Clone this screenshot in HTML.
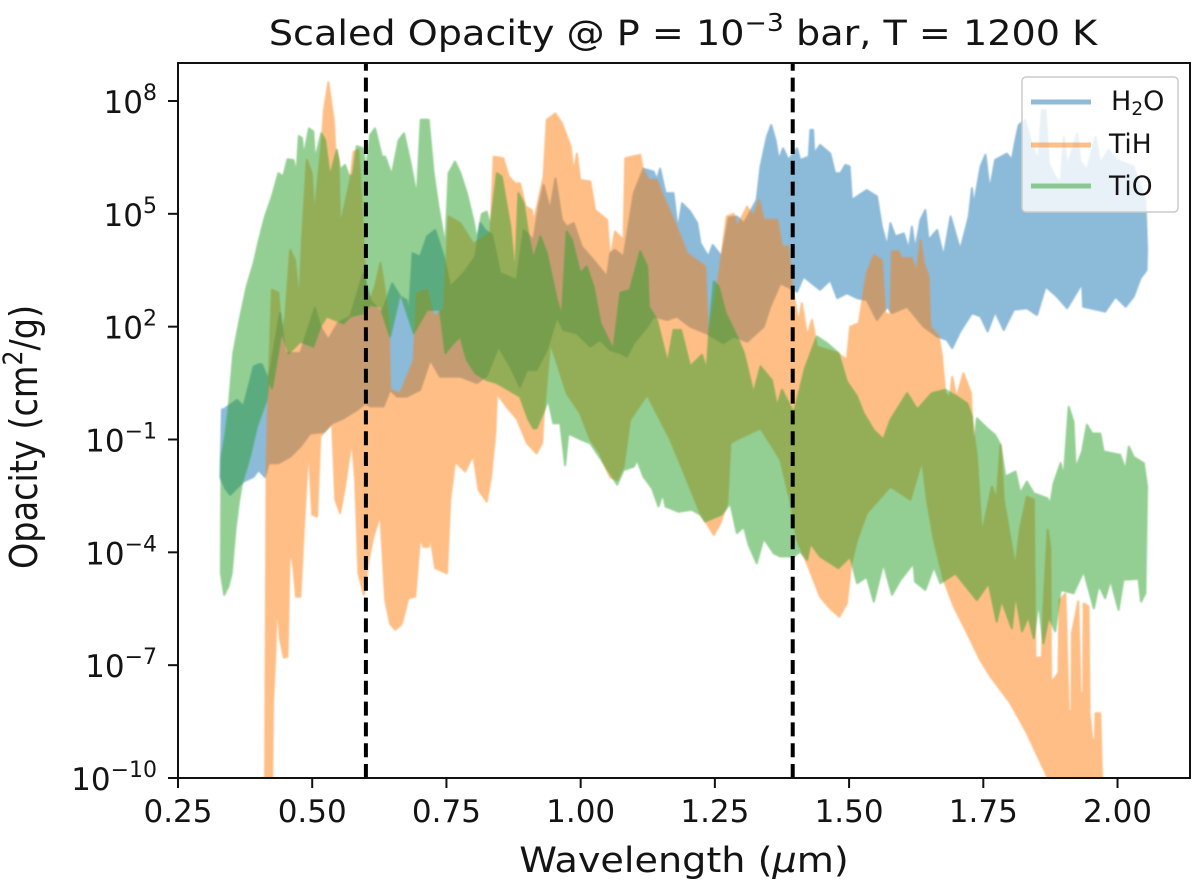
<!DOCTYPE html>
<html lang="en">
<head>
<meta charset="utf-8">
<title>Scaled Opacity</title>
<style>
html,body{margin:0;padding:0;background:#fff;}
svg{display:block;font-family:"DejaVu Sans","Liberation Sans",sans-serif;fill:#141414;}
</style>
</head>
<body>
<svg id="chart" xmlns="http://www.w3.org/2000/svg" width="1200" height="891" viewBox="0 0 1200 891">
<defs>
<clipPath id="plot-clip"><rect x="178" y="63" width="1012" height="715"/></clipPath>
<filter id="soft" x="-2%" y="-2%" width="104%" height="104%"><feGaussianBlur stdDeviation="0.7"/></filter>
</defs>
<rect width="1200" height="891" fill="#fff"/>
<g id="series-layer" clip-path="url(#plot-clip)"></g>
<g id="marker-layer" clip-path="url(#plot-clip)"></g>
<g id="tick-layer"></g>
<rect x="178" y="63" width="1012" height="715" fill="none" stroke="#111" stroke-width="2"/>
<text transform="translate(683,45) scale(1.09,1)" text-anchor="middle" font-size="35">Scaled Opacity @ P = 10<tspan font-size="24.5" dy="-14">−3</tspan><tspan dy="14"> bar, T = 1200 K</tspan></text>
<text transform="translate(684,872) scale(1.09,1)" text-anchor="middle" font-size="35">Wavelength (<tspan font-style="italic">μ</tspan>m)</text>
<text transform="translate(37,437) rotate(-90) scale(1,1.14)" text-anchor="middle" font-size="33.5">Opacity (cm<tspan font-size="23.5" dy="-13">2</tspan><tspan dy="13">/g)</tspan></text>
<g>
<rect x="1022" y="77" width="156" height="135" rx="4" fill="#fff" fill-opacity="0.8" stroke="#ccc" stroke-width="1.5"/>
<line x1="1031" x2="1091" y1="102" y2="102" stroke="#1f77b4" stroke-opacity="0.5" stroke-width="5"/>
<line x1="1031" x2="1091" y1="145" y2="145" stroke="#ff7f0e" stroke-opacity="0.5" stroke-width="5"/>
<line x1="1031" x2="1091" y1="186" y2="186" stroke="#2ca02c" stroke-opacity="0.5" stroke-width="5"/>
<text x="1111" y="110" font-size="27">H<tspan font-size="18.5" dy="5">2</tspan><tspan dy="-5">O</tspan></text>
<text x="1109" y="153" font-size="26.5">TiH</text>
<text x="1109" y="195" font-size="26.5">TiO</text>
</g>
</svg>
<script>
// Data: wavelengths in microns, opacity envelopes as log10(cm^2/g).
var h2oUpperWave=[.329,.332,.335,.36,.372,.391,.4,.406,.419,.44,.45,.478,.505,.515,.53,.548,.571,.586,.595,.608,.63,.649,.664,.676,.68,.687,.701,.714,.729,.745,.757,.782,.804,.813,.822,.835,.85,.881,.894,.912,.922,.931,.943,.953,.965,.974,.987,1.002,1.024,1.049,1.055,1.064,1.08,1.099,1.117,1.136,1.142,1.148,1.158,1.173,1.181,1.189,1.204,1.217,1.223,1.238,1.246,1.263,1.276,1.291,1.304,1.328,1.335,1.347,1.355,1.363,1.369,1.377,1.387,1.403,1.409,1.425,1.428,1.433,1.435,1.446,1.465,1.474,1.484,1.493,1.501,1.505,1.533,1.542,1.552,1.561,1.571,1.577,1.586,1.602,1.611,1.617,1.623,1.633,1.642,1.648,1.664,1.676,1.689,1.698,1.707,1.723,1.729,1.732,1.745,1.754,1.762,1.772,1.794,1.803,1.81,1.816,1.828,1.841,1.853,1.859,1.866,1.872,1.884,1.894,1.9,1.906,1.925,1.931,1.943,1.959,1.968,1.983,1.999,2.03,2.052,2.055];
var h2oUpperLog=[-2,-.2,-.2,.05,-.12,.94,1,1,.58,2.36,1.3,1.3,2.5,2,1.65,2.1,2.27,2.98,3.42,2.7,2.36,3.15,2.8,2.7,2.27,3.95,3.86,4.4,4.57,3.86,3.06,3.42,3.86,4.75,4.57,4.44,3.42,3.24,4.57,4.3,5.2,5.77,5.1,5.94,4.84,4.66,4.75,4.13,3.77,3.33,3.95,4.04,3.86,5.55,6.2,6.12,5.9,6.2,5.55,5.55,4.57,5.28,5.06,4.75,4.22,3.86,4.17,3.86,4.9,4.93,4.75,5.37,6.25,7.05,7.36,6.96,6.43,6.74,6.43,6.74,6.43,6.52,7.23,7.23,6.6,6.83,6.6,6.08,6.08,6.3,6.26,5.37,5.63,5.55,5.46,4.66,4.13,4.75,4.4,4.48,4.05,4.66,4.05,4.84,5.1,4.3,4.57,3.86,4.93,4.48,4.04,4.93,5.68,5.2,6.26,6.57,5.63,6.43,6.6,6.43,6.96,7.36,7.5,6.79,6.43,7.76,7.76,6.34,5.99,5.81,7.05,6.26,7.14,6.4,6.16,7.05,6.34,6.7,6.43,6.26,5.37,4.04];
var h2oLowerWave=[.329,.338,.347,.372,.391,.4,.412,.419,.437,.459,.478,.496,.521,.537,.558,.583,.599,.608,.633,.645,.658,.676,.701,.72,.738,.776,.807,.825,.847,.869,.887,.9,.918,.937,.956,.968,.993,1.018,1.036,1.055,1.074,1.086,1.099,1.124,1.136,1.161,1.179,1.204,1.235,1.266,1.285,1.31,1.341,1.353,1.372,1.384,1.403,1.415,1.446,1.465,1.478,1.496,1.515,1.533,1.552,1.571,1.58,1.608,1.639,1.664,1.682,1.692,1.707,1.729,1.745,1.758,1.772,1.788,1.807,1.831,1.85,1.866,1.887,1.906,1.934,1.936,1.977,1.996,2.015,2.03,2.043,2.054,2.055];
var h2oLowerLog=[-2,-2.3,-2.47,-2.12,-1.99,-1.81,-2,-1.63,-1.63,-1.46,-1.19,-.84,-.8,-.57,-.44,-.22,-.04,-.12,-.12,.32,.14,.14,.32,1.12,.67,.67,.5,.7,1.47,.94,.4,.85,.85,1.38,2.27,1.91,1.82,1.47,1.65,1.38,1.3,1.2,1.56,2,2.27,2.18,2.27,2,1.82,1.56,1.74,1.6,2,2.53,3.15,3.07,2.93,3.33,2.98,3.24,2.76,2.89,2.76,2.71,2.18,2.53,2.36,2.53,2,1.74,1.65,1.43,1.87,2.36,2.27,1.87,2.4,1.91,2.45,2.49,2.31,3.07,2.8,2.49,3.15,2.53,2.4,2.8,2.53,2.8,3.29,3.5,4.04];

var tihUpperWave=[.412,.415,.419,.425,.437,.443,.45,.459,.468,.476,.481,.49,.499,.504,.518,.522,.53,.54,.543,.549,.552,.571,.577,.586,.592,.599,.608,.617,.627,.636,.642,.645,.664,.689,.695,.714,.726,.745,.754,.776,.8,.832,.838,.856,.866,.878,.887,.897,.909,.912,.931,.937,.953,.965,.981,.987,.993,.999,1.018,1.027,1.049,1.055,1.064,1.08,1.083,1.111,1.116,1.127,1.142,1.151,1.176,1.198,1.232,1.238,1.26,1.272,1.285,1.291,1.31,1.322,1.332,1.341,1.366,1.375,1.387,1.394,1.406,1.412,1.422,1.431,1.44,1.478,1.496,1.502,1.518,1.533,1.546,1.561,1.567,1.577,1.58,1.592,1.598,1.617,1.626,1.633,1.639,1.648,1.651,1.667,1.673,1.679,1.688,1.692,1.7,1.713,1.727,1.729,1.738,1.747,1.752,1.766,1.775,1.782,1.788,1.803,1.81,1.818,1.831,1.844,1.847,1.859,1.862,1.87,1.875,1.876,1.89,1.892,1.903,1.909,1.914,1.915,1.927,1.931,1.936,1.937,1.946,1.948,1.953,1.958,1.959,1.968,1.971,1.975];
var tihUpperLog=[-10.5,-1.7,.5,2.98,2.9,1.8,2.27,4.04,3.77,2.62,4.3,6.43,6.08,4.93,6.96,7.76,8.5,7.5,6.74,6.43,4.66,5.9,6.65,6.7,5.37,3.06,2.7,3.06,3.69,2.9,2.18,.32,.23,1.1,2.9,2.98,2.27,2.45,4.93,4.75,4.2,4.5,6.52,6.48,5.99,5.81,5.81,5.2,5.1,4.75,5.99,7.5,7.67,7.41,6.8,6.1,6.6,5.9,5.86,5.1,4.84,3.77,4.53,4.3,6.48,6.57,6.17,5.9,5.9,5.55,4.75,3.95,3.6,1.65,3.6,4.93,5,4.66,5.19,4.93,5.37,4.84,4.84,4.13,4.13,3.07,2.09,2.62,1.74,2.18,1.47,1.3,1.12,2,2.09,3.42,3.9,3.77,2.36,2.3,4,4,3.82,3.82,3.42,4.3,3.69,3.33,2,1.74,1.2,.23,.1,.67,.1,.76,.23,-.48,-1.46,-3.5,-3.2,-2.25,-2.6,-1.15,-2.6,-3.85,-4.4,-3.4,-2.52,-2.6,-6.8,-6.8,-5.5,-3.4,-3.9,-7.48,-7.2,-5.27,-5.1,-8.23,-8.23,-6.15,-5.3,-7.75,-7.75,-5.36,-5.44,-8.28,-8.99,-8.99,-8.28,-8.28,-10,-10.5];
var tihLowerWave=[.412,.425,.427,.431,.434,.44,.447,.454,.458,.465,.47,.478,.484,.493,.5,.509,.515,.537,.543,.552,.561,.574,.58,.586,.596,.605,.614,.627,.636,.645,.655,.667,.679,.692,.701,.707,.717,.72,.729,.751,.757,.766,.785,.8,.81,.825,.833,.841,.844,.862,.881,.9,.918,.928,.931,.943,.95,.974,.999,1.018,1.036,1.046,1.055,1.068,1.08,1.092,1.124,1.148,1.167,1.198,1.223,1.248,1.26,1.273,1.279,1.291,1.335,1.353,1.372,1.39,1.403,1.422,1.446,1.465,1.482,1.496,1.504,1.515,1.533,1.577,1.614,1.636,1.645,1.658,1.676,1.695,1.72,1.744,1.763,1.8,1.831,1.869,1.88,1.975];
var tihLowerLog=[-10.5,-10.5,-8,-6.77,-5.27,-6.3,-6.8,-6.77,-3.85,-4.4,-5.18,-5.18,-3.49,-1.1,-3,-3.05,-.92,-.57,-2.6,-2.96,-2.25,-1,-2.08,-4.56,-5.13,-4.2,-3.58,-3,-5.27,-5.9,-6.06,-5.9,-5.22,-5.18,-3.58,-3.85,-3.85,-3.58,-4.42,-4.56,-2.6,-1.59,-1.85,-1.41,-2.34,-2.65,-2,-.84,.23,-.13,-.45,-1.1,-1.37,-1.1,-.39,1.56,1.3,.23,-.3,-1,-1.37,-1.72,-2,-2.08,-1.72,-.48,.19,-.48,-1,-2.08,-2.96,-3.54,-3.23,-2.7,-1.1,-1,-.7,-1.1,-1.54,-2.6,-3.67,-4.3,-5.18,-5.5,-5.71,-5.35,-4.3,-3.67,-2.96,-2.25,-2.6,-1.54,-2.6,-3.67,-4.73,-5.44,-6.15,-6.86,-7.3,-8,-8.8,-9.96,-10.5,-10.5];

var tioUpperWave=[.33,.331,.338,.344,.353,.366,.378,.391,.4,.412,.425,.437,.446,.454,.465,.471,.475,.481,.484,.494,.502,.505,.517,.524,.533,.546,.552,.561,.569,.576,.583,.595,.6,.608,.617,.63,.636,.648,.661,.671,.682,.695,.702,.717,.726,.735,.748,.754,.766,.776,.788,.8,.807,.816,.825,.832,.844,.853,.869,.878,.884,.894,.903,.912,.925,.937,.956,.965,.974,.984,.999,1.011,1.024,1.037,1.061,1.074,1.092,1.111,1.124,1.127,1.142,1.162,1.173,1.187,1.204,1.226,1.235,1.24,1.248,1.257,1.27,1.291,1.304,1.322,1.335,1.356,1.366,1.375,1.397,1.418,1.44,1.459,1.48,1.496,1.515,1.527,1.546,1.564,1.577,1.608,1.627,1.654,1.679,1.701,1.72,1.729,1.732,1.738,1.757,1.772,1.782,1.791,1.81,1.819,1.831,1.844,1.869,1.875,1.881,1.894,1.9,1.909,1.918,1.922,1.934,1.943,1.953,1.968,1.974,2.005,2.015,2.021,2.03,2.049,2.055];
var tioUpperLog=[-4.56,-1.5,-.9,-.2,1.3,2.27,3.07,3.69,4.26,4.93,5.46,6.08,5.99,6.45,6.43,6.08,7.07,7.01,6.52,7.27,7.19,6.43,7.14,6.96,5.99,6.7,6.17,6.3,5.99,6.05,6.8,6.74,6.1,7.1,7.27,6.52,6.52,6.03,6.96,7.14,6.43,5.46,7.5,7.5,6.08,5.2,4.13,6.08,6.39,6.08,5.55,4.84,4.3,5,5.06,4.66,6.08,5.99,4.66,3.33,5.55,5.28,4.4,3.8,4.4,3.95,2.7,2.27,4.53,4.3,3.42,3.6,3.07,2.09,1.38,2.9,2.98,4,3.6,2.53,2.18,1.03,1.91,1.91,.94,1.25,.85,2,3.2,3.07,2.36,1.74,1.3,.23,.94,.58,-.12,.32,-.3,.9,1.74,1.56,1.3,.54,.14,-.3,-.75,-1,-.48,.23,-.2,.23,.32,.14,-.04,-.39,-1.28,-.44,-.7,-.88,-1.15,-1.99,-1.85,-2.43,-2.12,-2.43,-2.56,-2.7,-2.17,-1.63,-1.99,-.13,-.53,-1.77,-1.32,-.61,-.84,-.84,-1.32,-1.41,-1.81,-1.19,-1.46,-1.63,-2.25];
var tioLowerWave=[.33,.336,.344,.35,.357,.363,.369,.384,.397,.415,.419,.425,.443,.456,.478,.502,.515,.527,.558,.571,.595,.608,.627,.645,.664,.689,.714,.738,.748,.763,.776,.788,.804,.825,.844,.887,.903,.912,.918,.94,.949,.962,.971,.977,1,1.018,1.043,1.068,1.08,1.099,1.105,1.117,1.133,1.145,1.153,1.158,1.182,1.207,1.223,1.232,1.262,1.279,1.291,1.304,1.313,1.328,1.341,1.36,1.372,1.397,1.409,1.422,1.428,1.446,1.48,1.502,1.515,1.533,1.546,1.564,1.58,1.596,1.62,1.623,1.642,1.658,1.67,1.698,1.738,1.76,1.775,1.784,1.803,1.81,1.822,1.834,1.844,1.853,1.862,1.872,1.884,1.894,1.918,1.937,1.956,1.965,1.977,1.987,2.002,2.011,2.039,2.044,2.052,2.055];
var tioLowerLog=[-4.56,-5.13,-4.9,-4.56,-3.4,-2.7,-2.17,-1.46,-.66,.05,.58,.36,1.87,1.29,1.6,1.47,2,2.27,2.09,2.27,2.36,2.58,2.53,1.74,2.9,1.83,2.45,2.45,1.3,1.56,1.74,1.12,.76,.58,.5,.14,-.48,-.7,-.7,.05,-.57,-.57,-1.68,-.84,-1,-1.1,-1.63,-2.2,-1.81,-1.72,-1.54,-1.99,-2.3,-2.78,-2.43,-2.78,-2.92,-2.87,-3,-3.18,-3,-2.7,-3.49,-3.32,-3.8,-4.29,-3.63,-4.03,-4.11,-4.11,-3.98,-4.2,-3.76,-4.11,-4.42,-4.11,-4.82,-4.65,-5.31,-4.29,-5.13,-4.73,-4.29,-4.78,-5,-4.38,-4.82,-4.56,-5.27,-4.82,-5.84,-5.27,-6.02,-5.1,-6.1,-5.7,-6.28,-5.3,-6.42,-5.7,-6.1,-5,-5.09,-4.5,-5.49,-4.87,-5.22,-4.73,-5.53,-4.73,-4.7,-5.31,-5.09,-2.25];

var markerWavelengths=[0.6,1.395];
var xTickValues=[0.25,0.5,0.75,1,1.25,1.5,1.75,2];
var xTickLabels=["0.25","0.50","0.75","1.00","1.25","1.50","1.75","2.00"];
var yTickExponents=[8,5,2,-1,-4,-7,-10];

var xMin=0.25, xMax=2.135, yMin=-10, yMax=9.01;
var plotLeft=178, plotRight=1190, plotTop=63, plotBottom=778;
var SVG_NS="http://www.w3.org/2000/svg";

function xScale(w){return plotLeft+(w-xMin)/(xMax-xMin)*(plotRight-plotLeft);}
function yScale(v){return plotBottom-(v-yMin)/(yMax-yMin)*(plotBottom-plotTop);}

function envelopePath(upW,upV,loW,loV){
  var d=[],i;
  for(i=0;i<upW.length;i++){d.push((i?"L":"M")+xScale(upW[i]).toFixed(1)+" "+yScale(upV[i]).toFixed(1));}
  for(i=loW.length-1;i>=0;i--){d.push("L"+xScale(loW[i]).toFixed(1)+" "+yScale(loV[i]).toFixed(1));}
  return d.join("")+"Z";
}

function addSeries(name,color,upW,upV,loW,loV){
  var g=document.createElementNS(SVG_NS,"g");
  
  
  g.setAttribute("opacity","0.5");
  var p=document.createElementNS(SVG_NS,"path");
  
  
  p.setAttribute("d",envelopePath(upW,upV,loW,loV));
  p.setAttribute("fill",color);
  p.setAttribute("stroke",color);
  p.setAttribute("stroke-width","2");
  p.setAttribute("stroke-linejoin","round");
  p.setAttribute("filter","url(#soft)");
  g.appendChild(p);
  document.getElementById("series-layer").appendChild(g);
}

addSeries("series-h2o","#1f77b4",h2oUpperWave,h2oUpperLog,h2oLowerWave,h2oLowerLog);
addSeries("series-tih","#ff7f0e",tihUpperWave,tihUpperLog,tihLowerWave,tihLowerLog);
addSeries("series-tio","#2ca02c",tioUpperWave,tioUpperLog,tioLowerWave,tioLowerLog);

markerWavelengths.forEach(function(w){
  var l=document.createElementNS(SVG_NS,"line");
  
  
  l.setAttribute("x1",xScale(w));
  l.setAttribute("x2",xScale(w));
  l.setAttribute("y1",plotBottom);
  l.setAttribute("y2",plotTop);
  l.setAttribute("stroke","#000");
  l.setAttribute("stroke-width","4");
  l.setAttribute("stroke-dasharray","14 6.8");
  document.getElementById("marker-layer").appendChild(l);
});

var tickLayer=document.getElementById("tick-layer");
xTickValues.forEach(function(v,i){
  var t=document.createElementNS(SVG_NS,"line");
  
  
  t.setAttribute("x1",xScale(v));
  t.setAttribute("x2",xScale(v));
  t.setAttribute("y1",plotBottom);
  t.setAttribute("y2",plotBottom+10);
  t.setAttribute("stroke","#111");
  t.setAttribute("stroke-width","2");
  tickLayer.appendChild(t);
  var s=document.createElementNS(SVG_NS,"text");
  
  
  s.setAttribute("x",xScale(v));
  s.setAttribute("y",822);
  s.setAttribute("text-anchor","middle");
  s.setAttribute("font-size","31");
  s.textContent=xTickLabels[i];
  tickLayer.appendChild(s);
});
yTickExponents.forEach(function(e){
  var t=document.createElementNS(SVG_NS,"line");
  
  
  t.setAttribute("x1",plotLeft-10);
  t.setAttribute("x2",plotLeft);
  t.setAttribute("y1",yScale(e));
  t.setAttribute("y2",yScale(e));
  t.setAttribute("stroke","#111");
  t.setAttribute("stroke-width","2");
  tickLayer.appendChild(t);
  var s=document.createElementNS(SVG_NS,"text");
  
  
  s.setAttribute("x",157);
  s.setAttribute("y",yScale(e)+12);
  s.setAttribute("text-anchor","end");
  s.setAttribute("font-size","31");
  var base=document.createElementNS(SVG_NS,"tspan");
  base.textContent="10";
  s.appendChild(base);
  var sup=document.createElementNS(SVG_NS,"tspan");
  sup.setAttribute("font-size","22");
  sup.setAttribute("dy","-13");
  sup.textContent=String(e).replace("-","\u2212");
  s.appendChild(sup);
  tickLayer.appendChild(s);
});
</script>
</body>
</html>
